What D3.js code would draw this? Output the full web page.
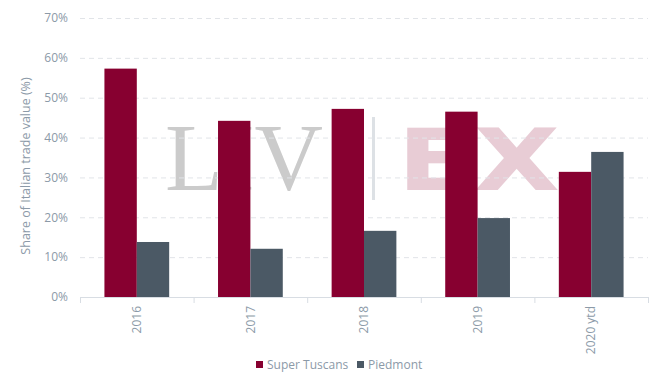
<!DOCTYPE html>
<html>
<head>
<meta charset="utf-8">
<script src="https://cdn.jsdelivr.net/npm/d3@7"></script>
<style>
  body { margin: 0; background: #fff; }
  .lbl { font-family: "Open Sans", "Noto Sans", sans-serif; }
</style>
</head>
<body>
<div id="chart"></div>
<script>
var years = ["2016", "2017", "2018", "2019", "2020 ytd"];
var seriesNames = ["Super Tuscans", "Piedmont"];
var superTuscans = [57.3, 44.2, 47.2, 46.5, 31.4];
var piedmont = [13.8, 12.1, 16.6, 19.8, 36.4];
var yTicks = [0, 10, 20, 30, 40, 50, 60, 70];
var colors = ["#870030", "#4b5965"];

var svgWidth = 669;
var svgHeight = 379;
var margin = { top: 18, right: 21, bottom: 82, left: 80 };
var width = svgWidth - margin.left - margin.right;
var height = svgHeight - margin.top - margin.bottom;

var svg = d3.select("#chart")
  .append("svg")
  .attr("width", svgWidth)
  .attr("height", svgHeight);

var chartGroup = svg.append("g")
  .attr("transform", `translate(${margin.left}, ${margin.top})`);

var data = years.map(function(y, i) {
  return { year: y, values: [superTuscans[i], piedmont[i]] };
});

var x0 = d3.scaleBand()
  .domain(years)
  .range([0, width])
  .paddingInner(0.43)
  .paddingOuter(0.215);

var x1 = d3.scaleBand()
  .domain([0, 1])
  .range([0, x0.bandwidth()]);

var yScale = d3.scaleLinear()
  .domain([0, 70])
  .range([height, 0]);

// watermark
var wm = chartGroup.append("g").attr("class", "watermark");
wm.append("text")
  .attr("x", 85)
  .attr("y", 172)
  .style("font-family", "'Liberation Serif', 'DejaVu Serif', serif")
  .style("font-size", "95px")
  .attr("fill", "#cbcbcb")
  .attr("textLength", 158)
  .attr("lengthAdjust", "spacingAndGlyphs")
  .text("LIV");
wm.append("rect")
  .attr("x", 292)
  .attr("y", 99)
  .attr("width", 3)
  .attr("height", 83)
  .attr("fill", "#dde1e5");
wm.append("text")
  .attr("x", 317)
  .attr("y", 172)
  .style("font-family", "'DejaVu Sans', sans-serif")
  .style("font-weight", "bold")
  .style("font-size", "86px")
  .attr("fill", "#e8ccd5")
  .attr("textLength", 163)
  .attr("lengthAdjust", "spacingAndGlyphs")
  .text("EX");

// gridlines
chartGroup.append("g")
  .selectAll("line")
  .data(yTicks.filter(d => d > 0))
  .enter()
  .append("line")
  .attr("x1", 0)
  .attr("x2", width)
  .attr("y1", d => yScale(d) + 0.5)
  .attr("y2", d => yScale(d) + 0.5)
  .attr("stroke", "#e1e4e8")
  .attr("stroke-dasharray", "5,4");

// y axis labels
var leftAxis = d3.axisLeft(yScale)
  .tickValues(yTicks)
  .tickFormat(d => d + "%")
  .tickSize(0)
  .tickPadding(12);

var yAxis = chartGroup.append("g").call(leftAxis);
yAxis.select(".domain").remove();
yAxis.selectAll("text")
  .attr("class", "lbl")
  .attr("fill", "#8c9aa8")
  .attr("font-size", "12px");

// bars
var groups = chartGroup.selectAll(".year")
  .data(data)
  .enter()
  .append("g")
  .attr("transform", d => `translate(${x0(d.year)}, 0)`);

groups.selectAll("rect")
  .data(d => d.values)
  .enter()
  .append("rect")
  .attr("x", (d, i) => x1(i))
  .attr("y", d => yScale(d))
  .attr("width", x1.bandwidth())
  .attr("height", d => height - yScale(d))
  .attr("fill", (d, i) => colors[i]);

// x axis
var bottomAxis = d3.axisBottom(x0).tickSize(0).tickPadding(0);
var xAxis = chartGroup.append("g")
  .attr("transform", `translate(0, ${height})`)
  .call(bottomAxis);
xAxis.select(".domain").remove();
xAxis.append("line")
  .attr("x1", 0)
  .attr("x2", width)
  .attr("y1", 0.5)
  .attr("y2", 0.5)
  .attr("stroke", "#d8dde3");
xAxis.selectAll(".tickmark")
  .data(d3.range(years.length + 1))
  .enter()
  .append("line")
  .attr("x1", i => i * x0.step() + 0.5)
  .attr("x2", i => i * x0.step() + 0.5)
  .attr("y1", 0)
  .attr("y2", 6)
  .attr("stroke", "#d8dde3");
xAxis.selectAll(".tick text")
  .attr("class", "lbl")
  .attr("transform", "rotate(-90)")
  .attr("text-anchor", "end")
  .attr("x", -9)
  .attr("y", 0)
  .attr("dy", "0.35em")
  .attr("fill", "#8c9aa8")
  .attr("font-size", "12px");

// y axis title
svg.append("text")
  .attr("class", "lbl")
  .attr("transform", "translate(30, 166) rotate(-90)")
  .attr("text-anchor", "middle")
  .attr("fill", "#8c9aa8")
  .attr("font-size", "12.5px")
  .text("Share of Italian trade value (%)");

// legend
var legendItems = [
  { name: seriesNames[0], color: colors[0], x: 256 },
  { name: seriesNames[1], color: colors[1], x: 357 }
];
var legend = svg.append("g");
legendItems.forEach(function(item) {
  legend.append("rect")
    .attr("x", item.x)
    .attr("y", 361)
    .attr("width", 7)
    .attr("height", 7)
    .attr("fill", item.color);
  legend.append("text")
    .attr("class", "lbl")
    .attr("x", item.x + 11)
    .attr("y", 365)
    .attr("dy", "0.35em")
    .attr("fill", "#8c9aa8")
    .attr("font-size", "12px")
    .text(item.name);
});
</script>
</body>
</html>
